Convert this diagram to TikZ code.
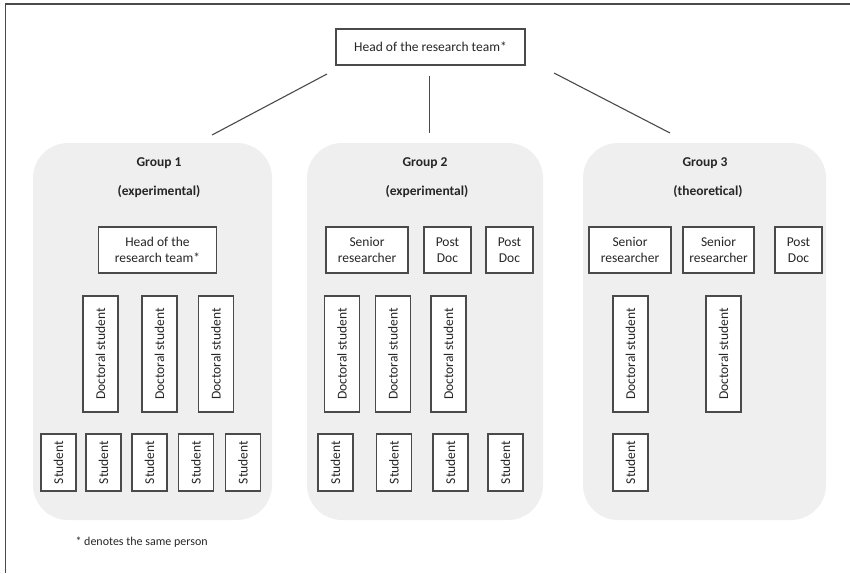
\documentclass[tikz,border=0pt]{standalone}
\usepackage{fontspec}
\setmainfont{Carlito}
\definecolor{panelgray}{HTML}{EFEFEF}
\definecolor{linegray}{HTML}{4A4A4A}
\definecolor{textgray}{HTML}{262626}
\begin{document}
\begin{tikzpicture}[x=1pt,y=-1pt,
  box/.style={draw=linegray,fill=white,line width=1.2pt,inner sep=0pt,align=center,
    text=textgray,font=\fontsize{13.5}{16.5}\selectfont},
  vbox/.style={box,rotate=90,minimum height=35},
  panel/.style={fill=panelgray,rounded corners=35pt},
  title/.style={text=textgray,font=\bfseries\fontsize{13.5}{16}\selectfont},
  link/.style={draw=linegray,line width=1.1pt}]
\useasboundingbox (0,0) rectangle (850,573);
% frame
\draw[linegray,line width=1.8pt] (5.5,573) -- (5.5,4) -- (850,4);
% head of the team
\node[box,minimum width=189,minimum height=36] (head) at (430.5,47) {Head of the research team*};
\coordinate (head-l) at (327,74);
\coordinate (head-m) at (429.5,76);
\coordinate (head-r) at (554,73);
\coordinate (g1-in) at (212,135);
\coordinate (g2-in) at (429.5,133);
\coordinate (g3-in) at (670,133);
\draw[link] (head-l) -- (g1-in);
\draw[link] (head-m) -- (g2-in);
\draw[link] (head-r) -- (g3-in);
% panels
\fill[panel] (33,143) rectangle (272,520);
\fill[panel] (307,143) rectangle (543,520);
\fill[panel] (583,143) rectangle (826,520);
% group 1
\node[title] (g1name) at (159,163) {Group 1};
\node[title] (g1kind) at (159,192) {(experimental)};
\node[box,minimum width=118,minimum height=46] (g1head) at (157.5,250) {Head of the\\research team*};
\node[vbox,minimum width=116] (g1d1) at (100.5,354) {Doctoral student};
\node[vbox,minimum width=116] (g1d2) at (159.5,354) {Doctoral student};
\node[vbox,minimum width=116] (g1d3) at (216,354) {Doctoral student};
\node[vbox,minimum width=57] (g1s1) at (58.5,462.5) {Student};
\node[vbox,minimum width=57] (g1s2) at (103.5,462.5) {Student};
\node[vbox,minimum width=57] (g1s3) at (149.5,462.5) {Student};
\node[vbox,minimum width=57] (g1s4) at (196,462.5) {Student};
\node[vbox,minimum width=57] (g1s5) at (243,462.5) {Student};
% group 2
\node[title] (g2name) at (425,163) {Group 2};
\node[title] (g2kind) at (427,192) {(experimental)};
\node[box,minimum width=82,minimum height=46] (g2sen) at (367,250) {Senior\\researcher};
\node[box,minimum width=47,minimum height=46] (g2pd1) at (447.5,250) {Post\\Doc};
\node[box,minimum width=47,minimum height=46] (g2pd2) at (509.5,250) {Post\\Doc};
\node[vbox,minimum width=116] (g2d1) at (342,354) {Doctoral student};
\node[vbox,minimum width=116] (g2d2) at (393,354) {Doctoral student};
\node[vbox,minimum width=116] (g2d3) at (448.5,354) {Doctoral student};
\node[vbox,minimum width=57] (g2s1) at (335.5,462.5) {Student};
\node[vbox,minimum width=57] (g2s2) at (394,462.5) {Student};
\node[vbox,minimum width=57] (g2s3) at (450.5,462.5) {Student};
\node[vbox,minimum width=57] (g2s4) at (505.5,462.5) {Student};
% group 3
\node[title] (g3name) at (705,163) {Group 3};
\node[title] (g3kind) at (708,192) {(theoretical)};
\node[box,minimum width=82,minimum height=46] (g3sen1) at (630,250) {Senior\\researcher};
\node[box,minimum width=71,minimum height=46] (g3sen2) at (718.5,250) {Senior\\researcher};
\node[box,minimum width=47,minimum height=46] (g3pd) at (798.5,250) {Post\\Doc};
\node[vbox,minimum width=116] (g3d1) at (630.5,354) {Doctoral student};
\node[vbox,minimum width=116] (g3d2) at (723.5,354) {Doctoral student};
\node[vbox,minimum width=57] (g3s1) at (630.5,462.5) {Student};
% note
\node[anchor=west,text=textgray,font=\fontsize{12}{14}\selectfont] (note) at (72,542) {* denotes the same person};
\end{tikzpicture}
\end{document}
